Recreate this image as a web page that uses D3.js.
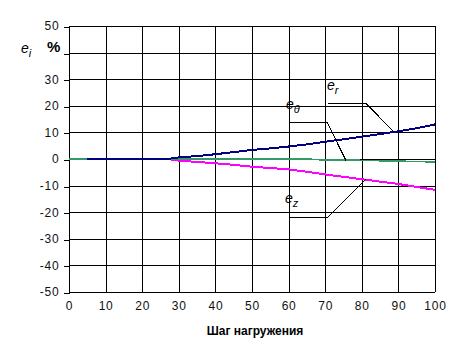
<!DOCTYPE html>
<html>
<head>
<meta charset="utf-8">
<script src="https://cdn.jsdelivr.net/npm/d3@7"></script>
<style>
  html, body { margin: 0; padding: 0; background: #fff; }
  svg { display: block; font-family: "Liberation Sans", Arial, sans-serif; }
</style>
</head>
<body>
<svg id="chart" width="462" height="341"></svg>
<script>
// Load steps and strain components, %
const steps = [5, 10, 15, 20, 25, 27, 30, 35, 40, 45, 50, 55, 60, 65, 70, 75, 80, 85, 90, 95, 100];
const er    = [0, 0, 0, 0, 0, 0, 0.6, 1.1, 1.8, 2.6, 3.4, 4.0, 4.7, 5.5, 6.5, 7.4, 8.4, 9.4, 10.4, 11.6, 13.0];

const stepsZ = [27, 30, 35, 40, 45, 50, 55, 60, 65, 70, 75, 80, 85, 90, 95, 100];
const ez     = [0, -0.6, -1.1, -1.6, -2.2, -2.9, -3.4, -3.9, -4.8, -5.8, -6.7, -7.6, -8.5, -9.4, -10.5, -11.6];

const stepsT = [0, 65, 70, 80, 90, 100];
const etheta = [0, 0, -0.4, -0.5, -0.8, -1.1];

const xTicks = [0, 10, 20, 30, 40, 50, 60, 70, 80, 90, 100];
const yTicks = [-50, -40, -30, -20, -10, 0, 10, 20, 30, 40, 50];

// Callout labels: text anchor and leader polyline in data units
const callouts = [
  { name: "r", text: [70.5, 25.9], path: [[70.8, 20.9], [81.1, 20.9], [88.8, 10.2]] },
  { name: "θ", text: [59.3, 18.8], path: [[60.1, 13.8], [70.5, 13.8], [75.7, -0.6]] },
  { name: "z", text: [59.0, -16.5], path: [[60.1, -22.1], [70.5, -22.1], [81.1, -7.6]] }
];

const svg = d3.select("#chart");
const x = d3.scaleLinear().domain([0, 100]).range([69, 435]);
const y = d3.scaleLinear().domain([-50, 50]).range([292, 26]);

// Grid
const grid = svg.append("g").attr("shape-rendering", "crispEdges").attr("stroke", "#000").attr("stroke-width", 1);
grid.selectAll("line.v").data(xTicks).join("line")
  .attr("x1", d => Math.round(x(d)) + 0.5).attr("x2", d => Math.round(x(d)) + 0.5)
  .attr("y1", y(50)).attr("y2", y(-50));
grid.selectAll("line.h").data(yTicks).join("line")
  .attr("x1", x(0)).attr("x2", x(100))
  .attr("y1", d => Math.round(y(d)) + 0.5).attr("y2", d => Math.round(y(d)) + 0.5);

// Axes
const yAxis = d3.axisLeft(y).tickValues(yTicks).tickSize(6).tickPadding(4)
  .tickFormat(d => d === 40 ? "" : d);
svg.append("g").attr("transform", `translate(${Math.round(x(0)) + 0.5},0)`).call(yAxis)
  .call(g => g.select(".domain").remove())
  .call(g => g.selectAll("line").attr("shape-rendering", "crispEdges").attr("transform", d => `translate(0,${Math.round(y(d)) + 0.5 - y(d)})`))
  .call(g => g.selectAll("text").attr("font-size", 12).attr("letter-spacing", "0.8px").attr("fill", "#111")
    .attr("font-family", "Liberation Sans, Arial, sans-serif"));

const xAxis = d3.axisBottom(x).tickValues(xTicks).tickSize(0).tickPadding(9);
svg.append("g").attr("transform", `translate(0,${y(-50)})`).call(xAxis)
  .call(g => g.select(".domain").remove())
  .call(g => g.selectAll("text").attr("font-size", 12).attr("letter-spacing", "0.8px").attr("fill", "#111")
    .attr("font-family", "Liberation Sans, Arial, sans-serif"));

// Series
const line = d3.line().x(d => x(d[0])).y(d => y(d[1]));
svg.append("path").datum(d3.zip(stepsZ, ez)).attr("d", line)
  .attr("fill", "none").attr("stroke", "#ff00ff").attr("stroke-width", 2).attr("shape-rendering", "crispEdges");
svg.append("path").datum(d3.zip(stepsT, etheta)).attr("d", line)
  .attr("fill", "none").attr("stroke", "#339966").attr("stroke-width", 1.6).attr("shape-rendering", "crispEdges");
svg.append("path").datum(d3.zip(steps, er)).attr("d", line)
  .attr("fill", "none").attr("stroke", "#000080").attr("stroke-width", 2).attr("shape-rendering", "crispEdges");

// Callouts
const co = svg.append("g");
co.selectAll("path").data(callouts).join("path")
  .attr("d", d => d3.line().x(p => x(p[0])).y(p => y(p[1]))(d.path))
  .attr("fill", "none").attr("stroke", "#000").attr("stroke-width", 1).attr("shape-rendering", "crispEdges");
const lbl = co.selectAll("text").data(callouts).join("text")
  .attr("x", d => x(d.text[0])).attr("y", d => y(d.text[1]))
  .attr("font-size", 14).attr("font-style", "italic").attr("fill", "#000");
lbl.append("tspan").text("e");
lbl.append("tspan").attr("font-size", 11).attr("dy", 4).text(d => d.name);

// Axis titles
const yt = svg.append("text").attr("x", 21).attr("y", 53).attr("font-size", 14).attr("font-style", "italic");
yt.append("tspan").text("e");
yt.append("tspan").attr("font-size", 11).attr("dy", 4).text("i");
svg.append("text").attr("x", 47).attr("y", 52).attr("font-size", 15).attr("font-weight", "bold").text("%");

svg.append("text").attr("x", 255).attr("y", 335).attr("text-anchor", "middle")
  .attr("font-size", 12).attr("font-weight", "bold").text("Шаг нагружения");
</script>
</body>
</html>
